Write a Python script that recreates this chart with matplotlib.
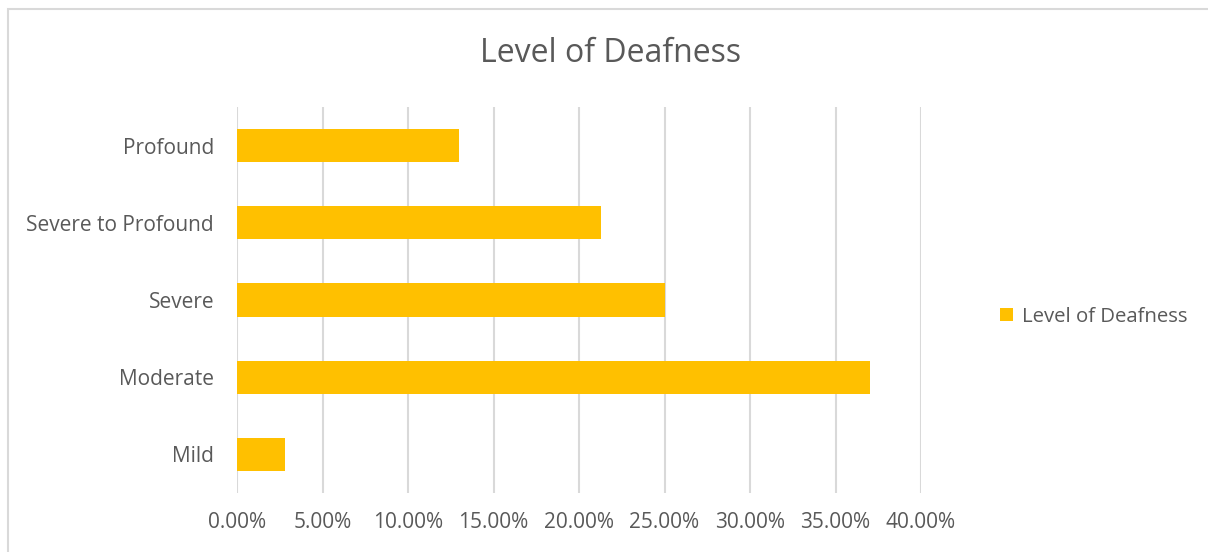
import matplotlib.pyplot as plt
from matplotlib.patches import Rectangle
from matplotlib.ticker import FuncFormatter

# Andel per grad av hørselstap (prosent)
kategorier = ["Mild", "Moderate", "Severe", "Severe to Profound", "Profound"]
andeler = [2.8, 37.0, 25.0, 21.3, 13.0]
x_ticks = [0, 5, 10, 15, 20, 25, 30, 35, 40]

tekstfarge = "#595959"
strekfarge = "#d9d9d9"
stolpefarge = "#ffc000"

plt.rcParams["font.family"] = ["Open Sans", "DejaVu Sans"]

fig = plt.figure(figsize=(12.08, 5.52), dpi=100)
ax = fig.add_axes([237 / 1208, 1 - 493 / 552, (921 - 237) / 1208, (493 - 107) / 552])

# Ramme rundt hele diagrammet
fig.patches.append(Rectangle((8 / 1208, -0.1), 1.2, 1.1 - 9 / 552, transform=fig.transFigure,
                             fill=False, edgecolor=strekfarge, linewidth=1.5))

ax.barh(range(len(kategorier)), andeler, height=0.43, color=stolpefarge, label="Level of Deafness", zorder=3)

ax.set_xlim(0, 40)
ax.set_ylim(-0.5, len(kategorier) - 0.5)
ax.set_xticks(x_ticks)
ax.xaxis.set_major_formatter(FuncFormatter(lambda v, p: f"{v:.2f}%"))
ax.set_yticks(range(len(kategorier)))
ax.set_yticklabels(kategorier)

ax.grid(axis="x", color=strekfarge, linewidth=1.5, zorder=0)
for side in ["top", "right", "bottom", "left"]:
    ax.spines[side].set_visible(False)
ax.tick_params(axis="both", length=0, labelsize=15, colors=tekstfarge)
ax.tick_params(axis="x", pad=14)
ax.tick_params(axis="y", pad=16.5)

fig.text(611 / 1208, 1 - 53 / 552, "Level of Deafness", ha="center", va="center", fontsize=23, color=tekstfarge)

ax.legend(loc="center left", bbox_to_anchor=(982 / 1208, 1 - 317 / 552), bbox_transform=fig.transFigure,
          frameon=False, handlelength=0.6, handleheight=0.6, handletextpad=0.45, fontsize=14.7,
          labelcolor=tekstfarge)

fig.savefig("out.png", dpi=100)
